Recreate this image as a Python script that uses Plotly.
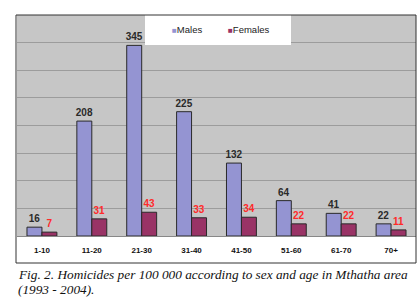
import plotly.graph_objects as go

categories = ["1-10", "11-20", "21-30", "31-40", "41-50", "51-60", "61-70", "70+"]
males = [16, 208, 345, 225, 132, 64, 41, 22]
females = [7, 31, 43, 33, 34, 22, 22, 11]
series_names = ["Males", "Females"]
series_colors = ["#9494D2", "#993366"]
caption_line1 = "Fig. 2. Homicides per 100 000 according to sex and age in Mthatha area"
caption_line2 = "(1993 - 2004)."

W, H = 418, 306
ml, mr, mt, mb = 17, 2, 15, 70
pw = W - ml - mr
ph = H - mt - mb

def px2x(px):
    return (px - ml) / pw

def py2y(py):
    return (H - mb - py) / ph

fig = go.Figure()
fig.add_trace(go.Bar(
    x=categories, y=males, name=series_names[0],
    marker=dict(color=series_colors[0], line=dict(color="#2a2a2a", width=1)),
    text=[str(v) for v in males], textposition="outside", constraintext="none",
    textfont=dict(family="Arial", size=10, color="#2a2a2a", weight="bold"),
    cliponaxis=False, showlegend=False,
))
fig.add_trace(go.Bar(
    x=categories, y=females, name=series_names[1],
    marker=dict(color=series_colors[1], line=dict(color="#2a2a2a", width=1)),
    text=[str(v) for v in females], textposition="outside", constraintext="none",
    textfont=dict(family="Arial", size=10, color="#FF2A2A", weight="bold"),
    cliponaxis=False, showlegend=False,
))

legend_annots = []
for name, color, xpx in zip(series_names, series_colors, [170, 226]):
    legend_annots.append(dict(
        text=f"<span style='color:{color};font-size:8px'>■</span>{name}",
        xref="paper", yref="paper", x=px2x(xpx), y=py2y(30),
        xanchor="left", yanchor="middle", showarrow=False,
        font=dict(family="Arial", size=9.5, color="#222"),
    ))

fig.update_layout(
    width=W, height=H,
    margin=dict(l=ml, r=mr, t=mt, b=mb),
    paper_bgcolor="white",
    plot_bgcolor="#C6C6C6",
    barmode="group", bargap=0.4, bargroupgap=0,
    showlegend=False,
    xaxis=dict(
        showgrid=False, ticks="outside", ticklen=6, tickcolor="rgba(0,0,0,0)",
        tickfont=dict(family="Arial", size=8, color="#111", weight="bold"),
        showline=True, linecolor="#888", linewidth=1,
    ),
    yaxis=dict(
        range=[0, 400], dtick=50, showgrid=True, gridcolor="#9c9c9c", gridwidth=1,
        showticklabels=False, zeroline=False, ticks="",
    ),
    shapes=[
        dict(type="rect", xref="paper", yref="paper",
             x0=px2x(145), x1=px2x(291), y0=py2y(45), y1=py2y(15),
             fillcolor="white", line=dict(width=0), layer="above"),
        dict(type="rect", xref="paper", yref="paper",
             x0=px2x(16), x1=px2x(416), y0=py2y(263), y1=py2y(15),
             fillcolor="rgba(0,0,0,0)", line=dict(color="#333", width=1), layer="above"),
    ],
    annotations=legend_annots + [
        dict(text=caption_line1, xref="paper", yref="paper", x=px2x(16), y=py2y(274),
             xanchor="left", yanchor="middle", showarrow=False,
             font=dict(family="Liberation Serif", size=13.3, color="#111", style="italic")),
        dict(text=caption_line2, xref="paper", yref="paper", x=px2x(16), y=py2y(289),
             xanchor="left", yanchor="middle", showarrow=False,
             font=dict(family="Liberation Serif", size=13.3, color="#111", style="italic")),
    ],
)

fig.write_html("out.html", config={"displayModeBar": False},
               post_script="document.body.style.margin='0';document.body.style.overflow='hidden';")
